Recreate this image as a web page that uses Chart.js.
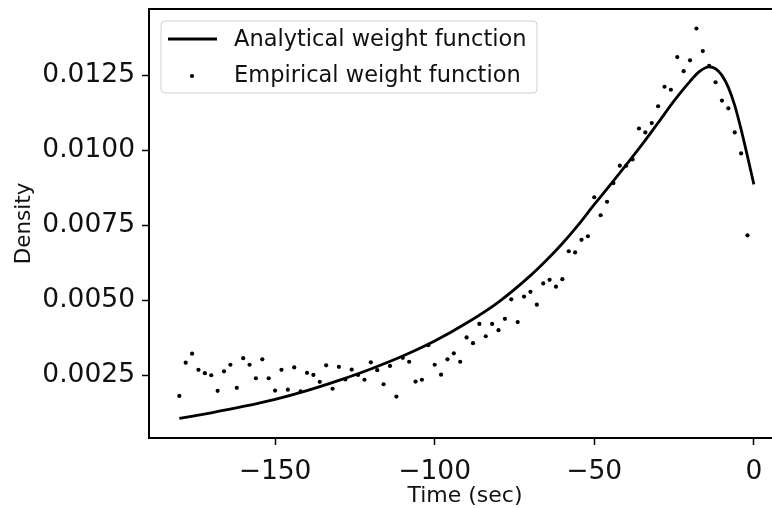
<!DOCTYPE html>
<html>
<head>
<meta charset="utf-8">
<script src="https://cdn.jsdelivr.net/npm/chart.js@4/dist/chart.umd.min.js"></script>
<style>
  html, body { margin: 0; padding: 0; background: #fff; overflow: hidden; }
  #wrap { width: 786px; height: 509px; }
</style>
</head>
<body>
<div id="wrap"><canvas id="chart" width="786" height="509"></canvas></div>
<script>
// Analytical curve
const curveTime = [-180, -170, -160, -150, -140, -130, -120, -110, -100, -90, -80, -70, -65, -60, -55, -50,
    -45, -40, -35, -30, -25, -20, -17, -14, -12, -10, -8, -6, -4, -2, 0];
const curveDensity = [0.00107, 0.00126, 0.00147, 0.00171, 0.00200, 0.00234, 0.00272, 0.00315, 0.00365,
    0.00425, 0.00495, 0.00583, 0.00634, 0.00690, 0.00752, 0.00820, 0.00885, 0.00952, 0.01020, 0.01092,
    0.01165, 0.01230, 0.01263, 0.01278, 0.01272, 0.01250, 0.01210, 0.01150, 0.01070, 0.00980, 0.00887];

// Empirical points (every 2 sec)
const empTime = [-180, -178, -176, -174, -172, -170, -168, -166, -164, -162, -160, -158, -156, -154, -152,
    -150, -148, -146, -144, -142, -140, -138, -136, -134, -132, -130, -128, -126, -124, -122,
    -120, -118, -116, -114, -112, -110, -108, -106, -104, -102, -100, -98, -96, -94, -92,
    -90, -88, -86, -84, -82, -80, -78, -76, -74, -72, -70, -68, -66, -64, -62,
    -60, -58, -56, -54, -52, -50, -48, -46, -44, -42, -40, -38, -36, -34, -32,
    -30, -28, -26, -24, -22, -20, -18, -16, -14, -12, -10, -8, -6, -4, -2];
const empDensity = [0.00182, 0.00293, 0.00323, 0.00269, 0.00258, 0.00251, 0.00199, 0.00264, 0.00286, 0.00209,
    0.00308, 0.00286, 0.00241, 0.00304, 0.00241, 0.00200, 0.00269, 0.00203, 0.00277, 0.00197,
    0.00259, 0.00252, 0.00229, 0.00284, 0.00206, 0.00279, 0.00237, 0.00270, 0.00252, 0.00236,
    0.00294, 0.00268, 0.00221, 0.00282, 0.00180, 0.00309, 0.00296, 0.00230, 0.00236, 0.00351,
    0.00286, 0.00253, 0.00304, 0.00324, 0.00296, 0.00377, 0.00358, 0.00422, 0.00381, 0.00422,
    0.00401, 0.00439, 0.00504, 0.00428, 0.00513, 0.00529, 0.00486, 0.00557, 0.00569, 0.00546,
    0.00571, 0.00664, 0.00660, 0.00702, 0.00714, 0.00844, 0.00784, 0.00829, 0.00891, 0.00949,
    0.00949, 0.00970, 0.01073, 0.01060, 0.01091, 0.01147, 0.01212, 0.01202, 0.01311, 0.01264,
    0.01300, 0.01406, 0.01331, 0.01282, 0.01227, 0.01166, 0.01140, 0.01060, 0.00990, 0.00717];

const xTicks = [-150, -100, -50, 0];
const yTicks = [0.0025, 0.0050, 0.0075, 0.0100, 0.0125];

const FONT = "'DejaVu Sans', sans-serif";

// Frame around the plot + legend box in the upper left
const framePlugin = {
    id: 'frame',
    afterDraw(chart) {
        const ctx = chart.ctx;
        const a = chart.chartArea;
        ctx.save();
        ctx.strokeStyle = '#000';
        ctx.lineWidth = 2;
        ctx.strokeRect(a.left, a.top, a.right - a.left, a.bottom - a.top);

        // legend
        const bx = a.left + 12, by = a.top + 12, bw = 376, bh = 72, r = 4;
        ctx.beginPath();
        ctx.roundRect(bx, by, bw, bh, r);
        ctx.fillStyle = 'rgba(255,255,255,0.8)';
        ctx.fill();
        ctx.strokeStyle = '#d0d0d0';
        ctx.lineWidth = 1;
        ctx.stroke();

        const sets = chart.data.datasets;
        ctx.font = '22.5px ' + FONT;
        ctx.fillStyle = '#111';
        ctx.textBaseline = 'middle';
        ctx.textAlign = 'left';
        const rows = [by + 18, by + 55];
        // line sample
        ctx.strokeStyle = '#000';
        ctx.lineWidth = 2.8;
        ctx.beginPath();
        ctx.moveTo(bx + 7, rows[0]);
        ctx.lineTo(bx + 56, rows[0]);
        ctx.stroke();
        ctx.fillText(sets[0].label, bx + 73, rows[0] + 1);
        // dot sample
        ctx.beginPath();
        ctx.arc(bx + 31, rows[1], 2.1, 0, Math.PI * 2);
        ctx.fillStyle = '#000';
        ctx.fill();
        ctx.fillStyle = '#111';
        ctx.fillText(sets[1].label, bx + 73, rows[1]);
        ctx.restore();
    }
};

new Chart(document.getElementById('chart'), {
    type: 'scatter',
    data: {
        datasets: [{
            type: 'line',
            label: 'Analytical weight function',
            data: curveTime.map((t, i) => ({ x: t, y: curveDensity[i] })),
            borderColor: '#000',
            borderWidth: 2.8,
            pointRadius: 0,
            cubicInterpolationMode: 'monotone',
            fill: false
        }, {
            label: 'Empirical weight function',
            data: empTime.map((t, i) => ({ x: t, y: empDensity[i] })),
            backgroundColor: '#000',
            borderColor: '#000',
            pointRadius: 2.1,
            borderWidth: 0
        }]
    },
    options: {
        responsive: false,
        animation: false,
        devicePixelRatio: 1,
        layout: { padding: { top: 9, right: 5, left: 0, bottom: 0 } },
        plugins: {
            legend: { display: false },
            tooltip: { enabled: false }
        },
        scales: {
            x: {
                type: 'linear',
                min: -189.5,
                max: 8.5,
                afterBuildTicks: (scale) => { scale.ticks = xTicks.map(v => ({ value: v })); },
                afterFit: (scale) => {
                    scale.height = 71;
                    scale.paddingLeft = 0;
                    scale.paddingRight = 0;
                },
                border: { display: false },
                grid: {
                    drawOnChartArea: false,
                    drawTicks: true,
                    tickLength: 7,
                    tickColor: '#000',
                    tickWidth: 1.5
                },
                ticks: {
                    autoSkip: false,
                    maxRotation: 0,
                    padding: 11,
                    color: '#111',
                    font: { family: FONT, size: 26.5 },
                    callback: (v) => (v < 0 ? '\u2212' + Math.abs(v) : String(v))
                },
                title: {
                    display: true,
                    text: 'Time (sec)',
                    color: '#111',
                    font: { family: FONT, size: 22 },
                    padding: { top: 0, bottom: 0 }
                }
            },
            y: {
                type: 'linear',
                min: 0.00042,
                max: 0.01471,
                afterBuildTicks: (scale) => { scale.ticks = yTicks.map(v => ({ value: v })); },
                afterFit: (scale) => {
                    scale.width = 149;
                    scale.paddingTop = 0;
                    scale.paddingBottom = 0;
                },
                border: { display: false },
                grid: {
                    drawOnChartArea: false,
                    drawTicks: true,
                    tickLength: 7,
                    tickColor: '#000',
                    tickWidth: 1.5
                },
                ticks: {
                    padding: 7,
                    color: '#111',
                    font: { family: FONT, size: 26.5 },
                    callback: (v) => v.toFixed(4)
                },
                title: {
                    display: true,
                    text: 'Density',
                    color: '#111',
                    font: { family: FONT, size: 21.5 },
                    padding: { top: 12, bottom: 0 }
                }
            }
        }
    },
    plugins: [framePlugin]
});
</script>
</body>
</html>
